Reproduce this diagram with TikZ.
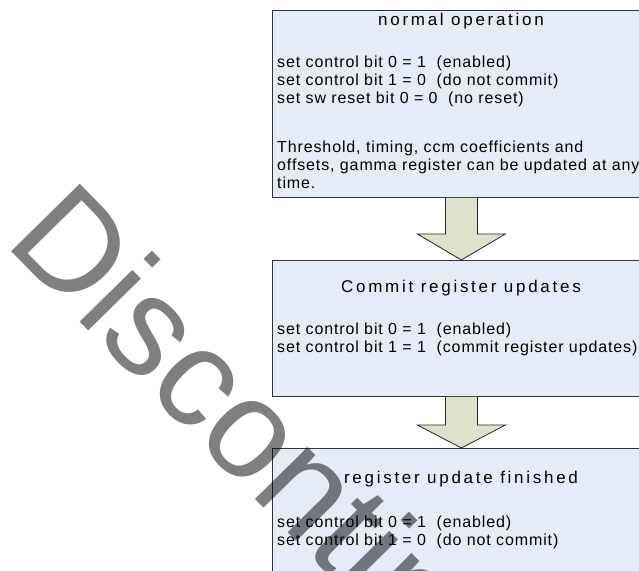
\documentclass[tikz,border=0pt]{standalone}
\usepackage{fontspec}
\setmainfont{Liberation Sans}
\newfontfamily\ttlfont[LetterSpace=16]{Liberation Sans}
\newfontfamily\bodyfont[LetterSpace=5.5]{Liberation Sans}
\newfontfamily\wmfont{Liberation Sans}
\usetikzlibrary{positioning,calc}
\definecolor{boxblue}{HTML}{E6ECF7}
\definecolor{arrsage}{HTML}{DEE2CC}
\tikzset{
  procbox/.style={draw=black!80,fill=boxblue,line width=0.8pt,anchor=north west,
    minimum width=378pt,inner sep=0pt},
  ttl/.style={font=\ttlfont\fontsize{17}{18}\selectfont,anchor=base,inner sep=0pt},
  bodytxt/.style={font=\bodyfont\fontsize{16}{18}\selectfont,align=left,
    anchor=north west,inner sep=0pt},
  blockarr/.style={draw=black!85,fill=arrsage,line width=0.8pt,line join=miter},
  wmark/.style={font=\wmfont\fontsize{140}{140}\selectfont,text=black,text opacity=0.5,
    rotate=-45.5,anchor=base west,inner sep=0pt},
}
\begin{document}
\begin{tikzpicture}[x=1pt,y=-1pt]
  \clip (0,0) rectangle (639,570);
  \useasboundingbox (0,0) rectangle (639,570);
  % the three stages
  \node[procbox,minimum height=187pt] (nrm) at (272,10) {};
  \node[procbox,minimum height=136pt] (cmt) at (272,260) {};
  \node[procbox,minimum height=160pt] (fin) at (272,448) {};
  % titles
  \node[ttl] (nrmttl) at (461,25) {normal operation};
  \node[ttl] (cmtttl) at (461,292) {Commit register updates};
  \node[ttl] (finttl) at (461,483) {register update finished};
  % register settings
  \node[bodytxt] (nrmset) at (277,56) {set control bit 0 = 1\ \ (enabled)\\
    set control bit 1 = 0\ \ (do not commit)\\
    set sw reset bit 0 = 0\ \ (no reset)};
  \node[bodytxt] (nrmnote) at (277,141) {Threshold, timing, ccm coefficients and\\
    offsets, gamma register can be updated at any\\
    time.};
  \node[bodytxt] (cmtset) at (277,323) {set control bit 0 = 1\ \ (enabled)\\
    set control bit 1 = 1\ \ (commit register updates)};
  \node[bodytxt] (finset) at (277,516) {set control bit 0 = 1\ \ (enabled)\\
    set control bit 1 = 0\ \ (do not commit)};
  % block arrows between stages
  \draw[blockarr] ($(nrm.south)+(-16,0)$) |- ($(cmt.north)+(-44,-26)$) -- (cmt.north)
    -- ($(cmt.north)+(44,-26)$) -| ($(nrm.south)+(16,0)$);
  \draw[blockarr] ($(cmt.south)+(-16,0)$) |- ($(fin.north)+(-44,-23)$) -- (fin.north)
    -- ($(fin.north)+(44,-23)$) -| ($(cmt.south)+(16,0)$);
  % watermark
  \node[wmark] (disc) at (3,243) {Discontinued};
\end{tikzpicture}
\end{document}
